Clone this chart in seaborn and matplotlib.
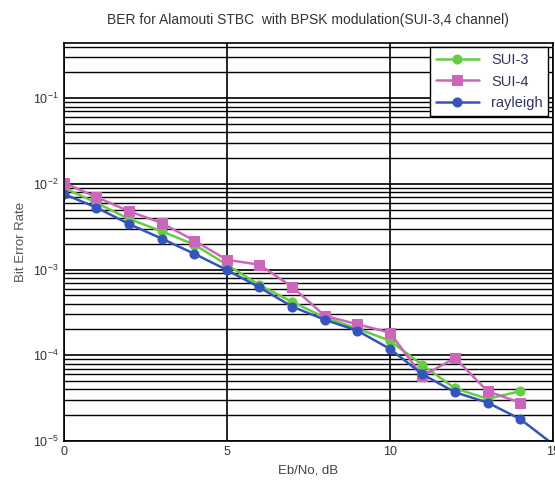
import numpy as np
import pandas as pd
import seaborn as sns
import matplotlib
matplotlib.use("Agg")
import matplotlib.pyplot as plt
import matplotlib.ticker as ticker

# Eb/No points (dB)
snr = list(range(16))

sui3 = [9.0e-3, 6.0e-3, 3.9e-3, 2.8e-3, 1.96e-3, 1.14e-3, 6.6e-4, 4.2e-4,
        2.77e-4, 2.05e-4, 1.48e-4, 7.7e-5, 4.1e-5, 3.1e-5, 3.8e-5]
sui4 = [1.03e-2, 7.0e-3, 4.8e-3, 3.5e-3, 2.18e-3, 1.30e-3, 1.14e-3, 6.3e-4,
        2.9e-4, 2.3e-4, 1.84e-4, 5.7e-5, 9.3e-5, 3.8e-5, 2.8e-5]
rayleigh = [7.6e-3, 5.3e-3, 3.4e-3, 2.3e-3, 1.53e-3, 9.9e-4, 6.2e-4, 3.7e-4,
            2.6e-4, 1.94e-4, 1.19e-4, 6.0e-5, 3.7e-5, 2.8e-5, 1.8e-5, 9.2e-6]

sns.set_style("white")
plt.rcParams['font.family'] = ['Liberation Sans', 'DejaVu Sans']

df = pd.concat([
    pd.DataFrame({'snr': snr[:len(sui3)], 'ber': sui3, 'ch': 'SUI-3'}),
    pd.DataFrame({'snr': snr[:len(sui4)], 'ber': sui4, 'ch': 'SUI-4'}),
    pd.DataFrame({'snr': snr, 'ber': rayleigh, 'ch': 'rayleigh'}),
])

fig = plt.figure(figsize=(5.55, 4.84), dpi=100)
ax = fig.add_axes([0.115, 0.089, 0.881, 0.822])

styles = {
    'SUI-3': dict(color='#66cc44', marker='o'),
    'SUI-4': dict(color='#cc66bb', marker='s'),
    'rayleigh': dict(color='#3355bb', marker='o'),
}
for name, st in styles.items():
    d = df[df['ch'] == name]
    sns.lineplot(x='snr', y='ber', data=d, ax=ax, label=name, color=st['color'],
                 marker=st['marker'], markersize=6.5, markerfacecolor=st['color'],
                 markeredgecolor=st['color'], linewidth=1.8)

ax.set_yscale('log')
ax.set_xlim(0, 15)
ax.set_ylim(1e-5, 0.44)
ax.xaxis.set_major_locator(ticker.MultipleLocator(5))
ax.yaxis.set_major_locator(ticker.LogLocator(base=10, numticks=10))
ax.yaxis.set_minor_locator(ticker.LogLocator(base=10, subs=np.arange(2, 10), numticks=10))
ax.yaxis.set_minor_formatter(ticker.NullFormatter())
ax.grid(True, which='major', color='black', linewidth=1.2)
ax.grid(True, which='minor', axis='y', color='black', linewidth=1.0)
for s in ax.spines.values():
    s.set_color('black')
    s.set_linewidth(1.2)

ax.tick_params(labelsize=9, colors='#333333', length=0, pad=4)
ax.set_title("BER for Alamouti STBC  with BPSK modulation(SUI-3,4 channel)",
             fontsize=10, color='#333333', pad=14)
ax.set_xlabel("Eb/No, dB", fontsize=9.5, color='#444444')
ax.set_ylabel("Bit Error Rate", fontsize=9.5, color='#555555')

leg = ax.legend(loc='upper right', fontsize=10.5, frameon=True, fancybox=False,
                handlelength=3.0, borderaxespad=0.3, labelcolor='#333366')
leg.get_frame().set_edgecolor('black')
leg.get_frame().set_linewidth(1.0)
leg.get_frame().set_alpha(1)

fig.savefig('out.png', dpi=100)
